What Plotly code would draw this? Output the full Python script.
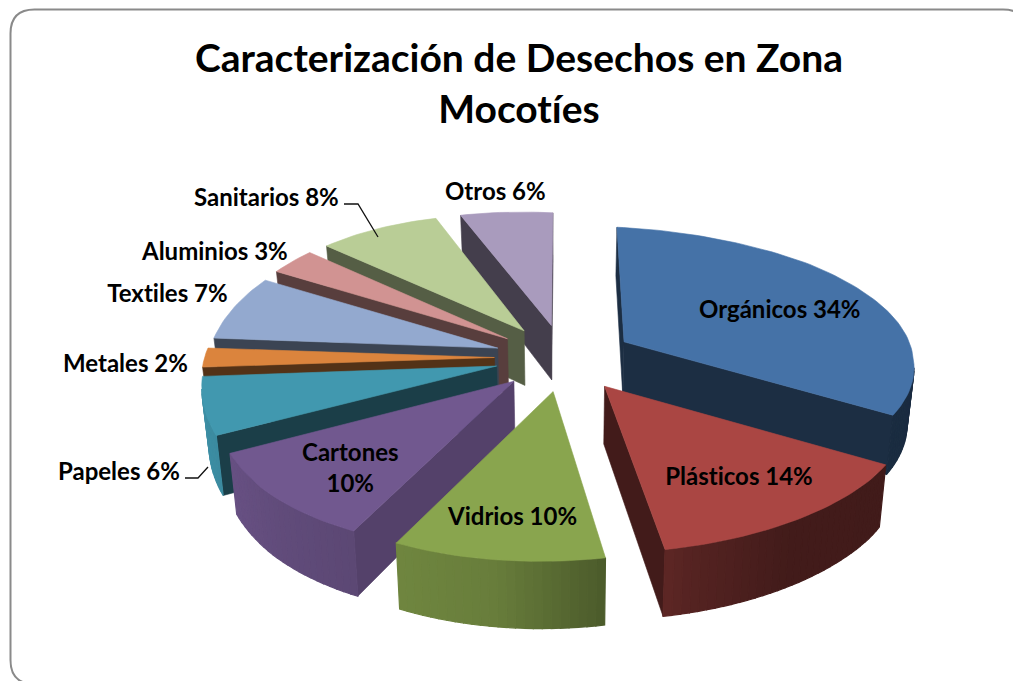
import numpy as np
import plotly.graph_objects as go

# ---------- data ----------
categories = ["Orgánicos", "Plásticos", "Vidrios", "Cartones", "Papeles",
              "Metales", "Textiles", "Aluminios", "Sanitarios", "Otros"]
values = [34, 14, 10, 10, 6, 2, 7, 3, 8, 6]
colors = ["#4572A7", "#AA4643", "#89A54E", "#71588F", "#4198AF",
          "#DB843D", "#93A9CF", "#D19392", "#B9CD96", "#A99BBD"]
cut_shades = [0.40, 0.39, 0.40, 0.74, 0.41, 0.38, 0.40, 0.42, 0.46, 0.40]

title_text = "Caracterización de Desechos en Zona<br>Mocotíes"

# ---------- layout of the picture (pixel space of the page) ----------
W, H = 1013, 681
CX, CY = 564, 357.5      # pie centre
FX, FY = 290, 139.5      # horizontal and vertical radius
PERSP = 0.136            # perspective strength
EXPLODE = 0.24           # slice pull, as a share of the radius
DEPTH = 56               # extrusion height
BASE_SCALE = 0.98        # base plane is slightly narrower than the top
SHEAR = 11               # the front of the pie leans to the right
TILT = 10                # the pie's plane is slightly turned
FRONT_FLAT = 10          # front rim is slightly flattened
BACK_FLAT = 8            # back rim is slightly flattened

label_pos = {
    "Orgánicos": (780, 308), "Plásticos": (739, 475.5), "Vidrios": (512, 515.5),
    "Cartones": (350, 467), "Papeles": (119, 470), "Metales": (125, 362),
    "Textiles": (167, 292), "Aluminios": (214, 250), "Sanitarios": (266, 196),
    "Otros": (495, 190),
}
leaders = [
    ([344, 358, 378], [204, 204, 237]),
    ([185, 198, 208], [478, 478, 467]),
]
shade_x = [-1, -0.7, -0.2, 0.2, 0.5, 1]
shade_f = [0.94, 0.85, 0.76, 0.50, 0.39, 0.38]


def project(X, Y):
    w = 1 / (1 - PERSP * Y)
    px = CX + FX * X * w + SHEAR * max(Y, 0)
    py = (CY + FY * Y * w - TILT * X * Y
          - FRONT_FLAT * max(0, Y - 0.8) + BACK_FLAT * max(0, -Y - 0.8))
    return px, py, w


def base(px, py, w):
    return CX + (px - CX) * BASE_SCALE, py + DEPTH * w


def shade(hex_color, f):
    r, g, b = (int(hex_color[i:i + 2], 16) for i in (1, 3, 5))
    return f"rgb({r * f:.0f},{g * f:.0f},{b * f:.0f})"


def poly(xs, ys, color, edge=0.6):
    return go.Scatter(x=list(xs), y=list(ys), mode="lines", fill="toself",
                      fillcolor=color, line=dict(color=color, width=edge),
                      hoverinfo="skip", showlegend=False)


total = sum(values)
edges = np.cumsum([0] + values) / total * 2 * np.pi
mids = (edges[:-1] + edges[1:]) / 2
order = np.argsort(-np.cos(mids))

traces = []
for i in order:
    a0, a1, m = edges[i], edges[i + 1], mids[i]
    ox, oy = EXPLODE * np.sin(m), -EXPLODE * np.cos(m)
    n = max(3, int(np.degrees(a1 - a0) / 1.5))
    th = np.linspace(a0, a1, n + 1)
    tip = project(ox, oy)
    rim = [project(ox + np.sin(t), oy - np.cos(t)) for t in th]
    color = colors[i]

    # the top polygon runs tip -> rim -> tip clockwise on screen, so an edge
    # looks towards the viewer when it runs right to left
    for p, q in ((tip, rim[0]), (rim[-1], tip)):
        if q[0] < p[0]:
            b_p, b_q = base(*p), base(*q)
            traces.append(poly([p[0], q[0], b_q[0], b_p[0], p[0]],
                               [p[1], q[1], b_q[1], b_p[1], p[1]],
                               shade(color, cut_shades[i])))
    # outer wall: thin strips so that the shading varies along it
    for j in range(n):
        p, q = rim[j], rim[j + 1]
        if q[0] < p[0]:
            t = (th[j] + th[j + 1]) / 2
            f = float(np.interp(np.sin(t), shade_x, shade_f))
            b_p, b_q = base(*p), base(*q)
            traces.append(poly([p[0], q[0], b_q[0], b_p[0], p[0]],
                               [p[1], q[1], b_q[1], b_p[1], p[1]],
                               shade(color, f), edge=1.2))
    # top face
    xs = [tip[0]] + [r[0] for r in rim] + [tip[0]]
    ys = [tip[1]] + [r[1] for r in rim] + [tip[1]]
    traces.append(poly(xs, ys, color))

for lx, ly in leaders:
    traces.append(go.Scatter(x=lx, y=ly, mode="lines",
                             line=dict(color="#111111", width=1.3),
                             hoverinfo="skip", showlegend=False))

annotations = []
for cat, val in zip(categories, values):
    sep = "<br>" if cat == "Cartones" else " "
    x, y = label_pos[cat]
    annotations.append(dict(x=x, y=y, xref="x", yref="y", showarrow=False,
                            text=f"{cat}{sep}{val}%",
                            font=dict(family="Lato", size=24, color="#000000",
                                      weight="bold")))

fig = go.Figure(traces)
fig.update_layout(
    width=W, height=H, autosize=False,
    margin=dict(l=0, r=0, t=0, b=0),
    paper_bgcolor="white", plot_bgcolor="white",
    showlegend=False,
    title=dict(text=title_text, x=519 / W, xanchor="center", y=1 - 72 / H,
               yanchor="middle",
               font=dict(family="Lato", size=39, color="#000000", weight="bold")),
    xaxis=dict(range=[0, W], visible=False, fixedrange=True),
    yaxis=dict(range=[H, 0], visible=False, fixedrange=True),
    annotations=annotations,
)

# rounded chart frame
fig.add_shape(type="path", xref="x", yref="y", layer="below",
              path="M 1027 684 L 34.5 684 Q 10.5 684 10.5 660 L 10.5 33.5 "
                   "Q 10.5 9.5 34.5 9.5 L 1003 9.5 Q 1027 9.5 1027 33.5 Z",
              line=dict(color="#8a8a8a", width=2))

fig.write_html("out.html", config={"displayModeBar": False},
               post_script="document.body.style.margin='0';"
                           "document.body.style.overflow='hidden';"
                           "var s=document.createElement('style');"
                           "s.textContent='text,tspan{font-variant-ligatures:none !important;"
                           "font-feature-settings:\"liga\" 0,\"clig\" 0 !important}';"
                           "document.head.appendChild(s);")
